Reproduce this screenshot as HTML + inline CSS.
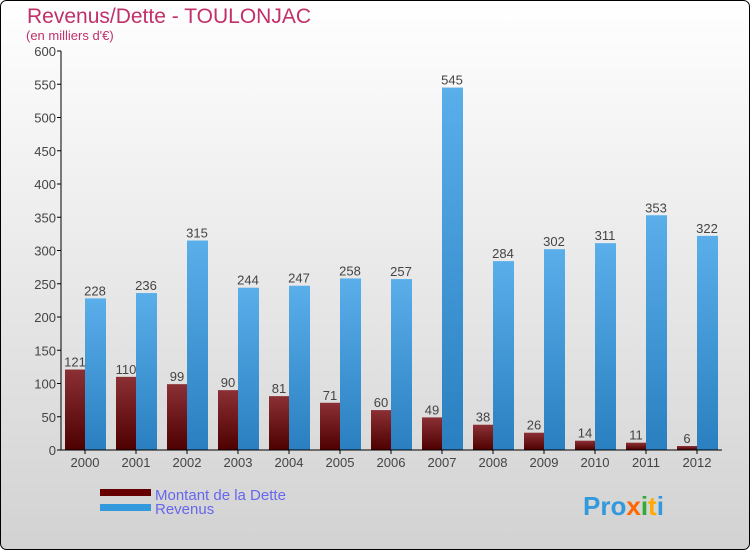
<!DOCTYPE html>
<html><head><meta charset="utf-8"><style>
html,body{margin:0;padding:0}
body{width:750px;height:550px;overflow:hidden;font-family:"Liberation Sans",sans-serif}
</style></head><body>
<svg width="750" height="550" xmlns="http://www.w3.org/2000/svg">
<defs>
<linearGradient id="bg" x1="0" y1="0" x2="0" y2="1"><stop offset="0" stop-color="#ffffff"/><stop offset="1" stop-color="#d2d2d2"/></linearGradient>
<linearGradient id="gd" x1="0" y1="0" x2="0" y2="1"><stop offset="0" stop-color="#8b3035"/><stop offset="1" stop-color="#4e0000"/></linearGradient>
<linearGradient id="gr" x1="0" y1="0" x2="0" y2="1"><stop offset="0" stop-color="#5aaeea"/><stop offset="1" stop-color="#2a7fc0"/></linearGradient>
</defs>
<rect x="0.5" y="0.5" width="749" height="549" rx="6" fill="url(#bg)" stroke="#000"/>
<text x="27" y="23" font-size="21" fill="#c0306a">Revenus/Dette - TOULONJAC</text>
<text x="26" y="40" font-size="13" fill="#c0306a">(en milliers d'€)</text>
<g id="plot"></g>
<g>
<rect x="100" y="489" width="51" height="7" fill="#660000"/>
<text x="155" y="500" font-size="15" fill="#6666ee">Montant de la Dette</text>
<rect x="100" y="504" width="51" height="7" fill="#3399dd"/>
<text x="155" y="514" font-size="15" fill="#6666ee">Revenus</text>
</g>
<g font-size="26" font-weight="bold">
<text x="583" y="515" fill="#3399dd">Pro<tspan fill="#ff6600">x</tspan><tspan fill="#33aa33">i</tspan><tspan fill="#ffaa00">t</tspan><tspan fill="#3399dd">i</tspan></text>
</g>
</svg>
<script>
const years=["2000","2001","2002","2003","2004","2005","2006","2007","2008","2009","2010","2011","2012"];
const dette=[121,110,99,90,81,71,60,49,38,26,14,11,6];
const revenus=[228,236,315,244,247,258,257,545,284,302,311,353,322];
const yTicks=[0,50,100,150,200,250,300,350,400,450,500,550,600];
const NS="http://www.w3.org/2000/svg";
const g=document.getElementById('plot');
const y=v=>450-v*399/600;
const xc=i=>85+i*51;
function mk(t,a){const e=document.createElementNS(NS,t);for(const k in a)e.setAttribute(k,a[k]);g.appendChild(e);return e;}
yTicks.forEach(v=>{
  const l=mk('line',{x1:57,x2:61,y1:y(v),y2:y(v),stroke:'#000'});
  
  
  const t=mk('text',{x:56,y:y(v)+5,'text-anchor':'end','font-size':13,fill:'#444'});
  t.textContent=v;
  
  
});
years.forEach((yr,i)=>{
  const c=xc(i);
  const b1=mk('rect',{x:c-20,y:y(dette[i]),width:20,height:450-y(dette[i]),fill:'url(#gd)'});
  
  
  const b2=mk('rect',{x:c,y:y(revenus[i]),width:21,height:450-y(revenus[i]),fill:'url(#gr)'});
  
  
  const t1=mk('text',{x:c-10,y:y(dette[i])-3,'text-anchor':'middle','font-size':13,fill:'#444'});
  t1.textContent=dette[i];
  
  
  const t2=mk('text',{x:c+10,y:y(revenus[i])-3,'text-anchor':'middle','font-size':13,fill:'#444'});
  t2.textContent=revenus[i];
  
  
  const tk=mk('line',{x1:c,x2:c,y1:450,y2:454,stroke:'#000'});
  
  
  const xl=mk('text',{x:c,y:467,'text-anchor':'middle','font-size':13,fill:'#444'});
  xl.textContent=yr;
  
  
});
const ya=mk('line',{x1:61,x2:61,y1:51,y2:450,stroke:'#000'});


const xa=mk('line',{x1:61,x2:722,y1:450,y2:450,stroke:'#000'});


</script>
</body></html>
